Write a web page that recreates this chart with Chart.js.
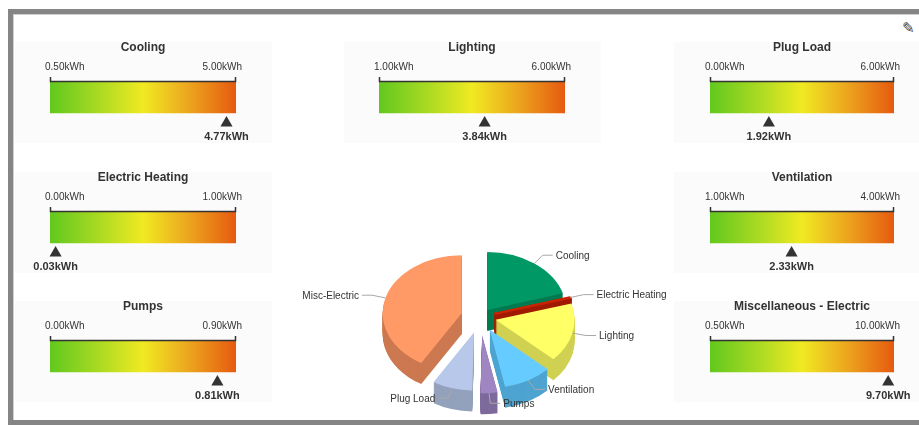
<!DOCTYPE html>
<html>
<head>
<meta charset="utf-8">
<script src="https://cdn.jsdelivr.net/npm/chart.js@4.4.0/dist/chart.umd.min.js"></script>
<style>
  html, body { margin: 0; padding: 0; background: #fff; overflow: hidden; }
  body { width: 919px; height: 425px; position: relative; font-family: "Liberation Sans", Arial, sans-serif; }
  #frame { position: absolute; left: 8px; top: 9px; width: 930px; height: 406px; border: 5px solid #858585; box-shadow: inset 1px 1px 0 #cfcfcf; }
  .gauge { position: absolute; background: #fbfbfb; }
  #pie { position: absolute; left: 280px; top: 230px; }
  #edit { position: absolute; left: 902px; top: 19px; font: 15px "DejaVu Sans"; color: #444; }
</style>
</head>
<body>
<div id="frame"></div>
<span id="edit">✎</span>
<canvas id="pie" width="400" height="195"></canvas>
<script>
// gauge data
const gaugeNames = ['Cooling', 'Lighting', 'Plug Load', 'Electric Heating', 'Ventilation', 'Pumps', 'Miscellaneous - Electric'];
const gaugeMin = [0.5, 1, 0, 0, 1, 0, 0.5];
const gaugeMax = [5, 6, 6, 1, 4, 0.9, 10];
const gaugeValue = [4.77, 3.84, 1.92, 0.03, 2.33, 0.81, 9.70];

// pie data
const pieLabels = ['Cooling', 'Electric Heating', 'Lighting', 'Ventilation', 'Pumps', 'Plug Load', 'Misc-Electric'];
const pieValues = [4.77, 0.03, 3.84, 2.33, 0.81, 1.92, 9.70];

// layout / style
const gaugeBox = [
  { x: 50, y: 81, w: 186 }, { x: 379, y: 81, w: 186 }, { x: 710, y: 81, w: 184 },
  { x: 50, y: 211, w: 186 }, { x: 710, y: 211, w: 184 },
  { x: 50, y: 340, w: 186 }, { x: 710, y: 340, w: 184 }
];
const pieFace = ['#009966', '#cc2200', '#ffff66', '#66ccff', '#9f85c2', '#b8c8ea', '#ff9966'];
const pieSide = ['#007a50', '#a01a00', '#d0d052', '#4ea4d0', '#7e6a9c', '#93a1bc', '#cc7850'];
const pieBorder = [0, 3, 0, 0, 0, 0, 0];
const pieExplode = [12, 15, 16, 20, 25, 22, 19];
const pieTilt = 0.734;
const pieDepth = 21;
const FONT = '"Liberation Sans", Arial, sans-serif';

const fmt = (v) => v.toFixed(2) + 'kWh';

function gradientFill(ctx) {
  const a = ctx.chart.chartArea;
  if (!a) return '#eeee22';
  const g = ctx.chart.ctx.createLinearGradient(a.left, 0, a.right, 0);
  g.addColorStop(0, '#62c81e');
  g.addColorStop(0.25, '#a6d922');
  g.addColorStop(0.5, '#f0ea22');
  g.addColorStop(0.75, '#eca41e');
  g.addColorStop(1, '#e65a10');
  return g;
}

function gaugeText(i) {
  return {
    id: 'gaugeText',
    afterDraw(chart) {
      const c = chart.ctx;
      const a = chart.chartArea;
      const xs = chart.scales.x;
      const x0 = xs.getPixelForValue(gaugeMin[i]);
      const x1 = xs.getPixelForValue(gaugeMax[i]);
      c.save();
      c.fillStyle = '#333';
      c.textBaseline = 'middle';
      c.textAlign = 'center';
      c.font = 'bold 12px ' + FONT;
      c.fillText(gaugeNames[i], (x0 + x1) / 2, a.top - 33);
      c.font = '10px ' + FONT;
      c.textAlign = 'left';
      c.fillText(fmt(gaugeMin[i]), x0 - 5, a.top - 14);
      c.textAlign = 'right';
      c.fillText(fmt(gaugeMax[i]), x1 + 6, a.top - 14);
      // axis line with end ticks
      c.strokeStyle = '#333';
      c.lineWidth = 1.5;
      c.beginPath();
      c.moveTo(x0 + 0.5, a.top - 4);
      c.lineTo(x0 + 0.5, a.top + 0.5);
      c.lineTo(x1 - 0.5, a.top + 0.5);
      c.lineTo(x1 - 0.5, a.top - 4);
      c.stroke();
      // value under the marker
      const pt = chart.getDatasetMeta(1).data[0];
      c.textAlign = 'center';
      c.font = 'bold 11px ' + FONT;
      c.fillText(fmt(gaugeValue[i]), pt.x, a.top + 56);
      c.restore();
    }
  };
}

function makeGauge(i) {
  const b = gaugeBox[i];
  const W = 257, H = 101;
  const left = Math.round(b.x + b.w / 2 - W / 2);
  const top = b.y - 39;
  const cv = document.createElement('canvas');
  cv.className = 'gauge';
  cv.width = W;
  cv.height = H;
  cv.style.left = left + 'px';
  cv.style.top = top + 'px';
  document.body.appendChild(cv);

  new Chart(cv, {
    type: 'bar',
    data: {
      datasets: [
        {
          type: 'bar',
          indexAxis: 'y',
          order: 1,
          data: [{ x: [gaugeMin[i], gaugeMax[i]], y: 16 }],
          backgroundColor: gradientFill,
          barThickness: 32,
          borderWidth: 0
        },
        {
          type: 'scatter',
          order: 0,
          data: [{ x: gaugeValue[i], y: 42 }],
          pointStyle: 'triangle',
          pointRadius: 7,
          backgroundColor: '#333',
          borderWidth: 0,
          clip: false
        }
      ]
    },
    options: {
      responsive: false,
      animation: false,
      layout: { padding: { left: b.x - left, right: W - (b.x + b.w - left), top: 39, bottom: H - 39 - 46 } },
      scales: {
        x: { type: 'linear', min: gaugeMin[i], max: gaugeMax[i], offset: false, grace: 0, display: false },
        y: { type: 'linear', min: 0, max: 46, reverse: true, offset: false, grace: 0, display: false }
      },
      plugins: { legend: { display: false }, tooltip: { enabled: false } }
    },
    plugins: [gaugeText(i)]
  });
}

gaugeNames.forEach((n, i) => makeGauge(i));

// 3D exploded pie
const mid = (a) => (a.startAngle + a.endAngle) / 2;

function tilt(c, x, y, d) {
  c.translate(x, y + d);
  c.scale(1, pieTilt);
  c.translate(-x, -y);
}

const pie3d = {
  id: 'pie3d',
  beforeDatasetsDraw(chart) {
    const c = chart.ctx;
    const arcs = chart.getDatasetMeta(0).data;
    const order = arcs.map((a, i) => i).sort((p, q) => Math.sin(mid(arcs[p])) - Math.sin(mid(arcs[q])));

    // side walls
    for (const i of order) {
      const a = arcs[i];
      const h = mid(a);
      const o = pieExplode[i];
      c.save();
      c.fillStyle = pieSide[i];
      c.strokeStyle = pieSide[i];
      c.lineWidth = pieBorder[i];
      for (let d = pieDepth; d >= 1; d--) {
        c.save();
        tilt(c, a.x, a.y, d);
        c.translate(Math.cos(h) * o, Math.sin(h) * o);
        c.beginPath();
        c.moveTo(a.x, a.y);
        c.arc(a.x, a.y, a.outerRadius, a.startAngle, a.endAngle);
        c.closePath();
        c.fill();
        if (pieBorder[i]) c.stroke();
        c.restore();
      }
      c.restore();
    }

    // top faces
    for (const i of order) {
      const a = arcs[i];
      const h = mid(a);
      const o = pieExplode[i];
      c.save();
      tilt(c, a.x, a.y, 0);
      c.translate(Math.cos(h) * o, Math.sin(h) * o);
      a.draw(c);
      c.restore();
    }
    return false;
  },
  afterDraw(chart) {
    const c = chart.ctx;
    const arcs = chart.getDatasetMeta(0).data;
    c.save();
    c.font = '10px ' + FONT;
    c.strokeStyle = '#a8a8a8';
    c.lineWidth = 1;
    c.fillStyle = '#333';
    c.textBaseline = 'middle';
    arcs.forEach((a, i) => {
      const h = mid(a);
      const r = a.outerRadius + pieExplode[i];
      const px = a.x + Math.cos(h) * r;
      const py = a.y + Math.sin(h) * r * pieTilt;
      const ex = a.x + Math.cos(h) * (r + 14);
      const ey = a.y + Math.sin(h) * (r + 14) * pieTilt;
      const side = Math.cos(h) >= 0 ? 1 : -1;
      const tx = ex + side * 10;
      c.beginPath();
      c.moveTo(px, py);
      c.lineTo(ex, ey);
      c.lineTo(tx, ey);
      c.stroke();
      c.textAlign = side > 0 ? 'left' : 'right';
      c.fillText(pieLabels[i], tx + side * 3, ey + 1);
    });
    c.restore();
  }
};

new Chart(document.getElementById('pie'), {
  type: 'pie',
  data: {
    labels: pieLabels,
    datasets: [{
      data: pieValues,
      backgroundColor: pieFace,
      borderColor: pieFace,
      borderWidth: pieBorder
    }]
  },
  options: {
    responsive: false,
    animation: false,
    radius: 79,
    layout: { padding: { top: 0, bottom: 21, left: 0, right: 0 } },
    plugins: { legend: { display: false }, tooltip: { enabled: false } }
  },
  plugins: [pie3d]
});
</script>
</body>
</html>
